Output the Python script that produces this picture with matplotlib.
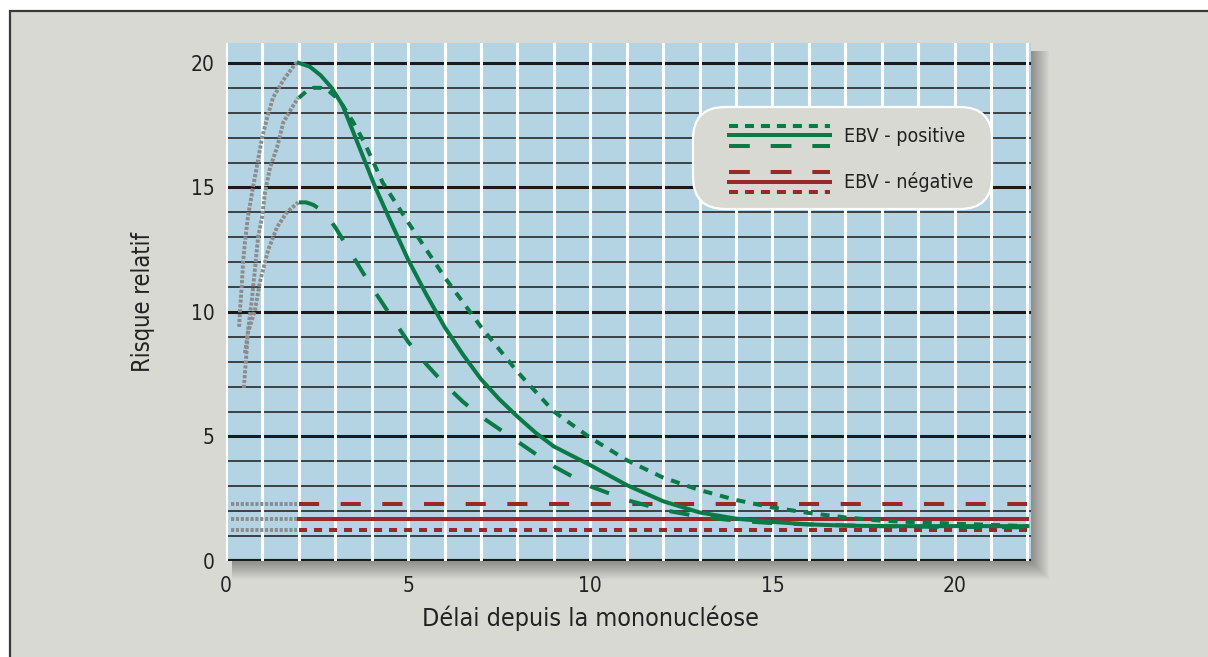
import matplotlib
matplotlib.use("Agg")
import matplotlib.pyplot as plt
from matplotlib.patches import Rectangle, FancyBboxPatch
from matplotlib.lines import Line2D
from matplotlib import font_manager as fm

# pick a condensed sans font if one is installed
_cond = None
_prefs = ['LiberationSansNarrow-Regular', 'DejaVuSansCondensed.', 'OpenSans_Condensed-Regular',
          'OpenSans-CondensedRegular', 'RobotoCondensed-Regular', 'Roboto_Condensed-Regular']
_files = [f.fname for f in fm.fontManager.ttflist]
for p in _prefs:
    hits = [f for f in _files if p.lower() in f.lower()]
    if hits:
        _cond = hits[0]
        break
if _cond is None:
    for f in fm.fontManager.ttflist:
        if f.stretch in ('condensed', 'semi-condensed') and f.style == 'normal' and f.weight in (400, 'normal'):
            _cond = f.fname
            break

plt.rcParams['font.family'] = ['Liberation Sans', 'DejaVu Sans']
plt.rcParams['lines.scale_dashes'] = False

def fp(size):
    if _cond:
        return fm.FontProperties(fname=_cond, size=size)
    return fm.FontProperties(family='Liberation Sans', size=size * 0.9)

# ---------------- data ----------------
x_ticks = [0, 5, 10, 15, 20]
y_ticks = [0, 5, 10, 15, 20]

# EBV-positive (green)
pos_solid_x = [2, 2.3, 2.6, 2.9, 3.2, 3.5, 3.8, 4.1, 4.5, 5, 5.5, 6, 6.5, 7, 7.5, 8, 8.5, 9, 10, 11, 12, 13, 14, 15, 16, 17, 18, 19, 20, 21, 22]
pos_solid_y = [20, 19.85, 19.5, 19.0, 18.3, 17.2, 16.1, 15.0, 13.7, 12.1, 10.7, 9.4, 8.3, 7.3, 6.5, 5.8, 5.15, 4.6, 3.85, 3.05, 2.4, 1.95, 1.7, 1.57, 1.47, 1.42, 1.4, 1.4, 1.4, 1.4, 1.4]

pos_dot_x = [2, 2.2, 2.4, 2.6, 2.8, 3.0, 3.2, 3.5, 3.8, 4.3, 5, 5.5, 6, 6.5, 7, 7.5, 8, 8.5, 9, 10, 11, 12, 13, 14, 15, 16, 17, 18, 19, 20, 21, 22]
pos_dot_y = [18.6, 18.85, 19.0, 19.0, 18.9, 18.65, 18.3, 17.6, 16.8, 15.2, 13.6, 12.5, 11.4, 10.4, 9.4, 8.5, 7.6, 6.8, 6.0, 4.95, 4.05, 3.35, 2.85, 2.45, 2.15, 1.93, 1.75, 1.62, 1.55, 1.5, 1.45, 1.4]

pos_dash_x = [2, 2.2, 2.4, 2.6, 2.8, 3, 3.5, 4, 4.5, 5, 5.5, 6, 6.5, 7, 7.5, 8, 8.5, 9, 10, 11, 12, 13, 14, 15, 16, 17, 18, 19, 20, 21, 22]
pos_dash_y = [14.4, 14.4, 14.3, 14.1, 13.8, 13.4, 12.2, 11.0, 9.9, 8.8, 7.9, 7.1, 6.4, 5.8, 5.3, 4.8, 4.3, 3.8, 3.0, 2.45, 2.05, 1.78, 1.62, 1.52, 1.47, 1.43, 1.4, 1.38, 1.37, 1.36, 1.35]

# EBV-negative (red), constant levels from 2 to 22
neg_x = [2, 22]
neg_dash_y = [2.3, 2.3]
neg_solid_y = [1.7, 1.7]
neg_dot_y = [1.25, 1.25]

# grey extrapolations (before 2 years)
grey_a_x = [0.36, 0.38, 0.43, 0.47, 0.52, 0.6, 0.74, 0.88, 0.99, 1.13, 1.29, 1.57, 1.9, 2.0]
grey_a_y = [9.4, 10.0, 11.0, 12.0, 12.8, 13.8, 15.0, 16.1, 17.0, 17.8, 18.6, 19.3, 19.96, 20.0]
grey_b_x = [0.49, 0.55, 0.6, 0.71, 0.8, 0.88, 0.99, 1.07, 1.21, 1.4, 1.57, 1.81, 1.98]
grey_b_y = [6.95, 8.1, 9.2, 10.5, 11.8, 13.0, 13.8, 14.8, 15.8, 16.6, 17.6, 18.2, 18.6]
grey_c_x = [0.52, 0.6, 0.8, 0.93, 1.16, 1.4, 1.67, 1.98]
grey_c_y = [8.35, 9.15, 10.1, 11.2, 12.5, 13.4, 14.0, 14.4]
grey_h_x = [0.14, 1.95]
grey_h_levels = [2.3, 1.7, 1.25]

legend_labels = ["EBV - positive", "EBV - négative"]

# ---------------- styles ----------------
GREEN = '#0b7a47'
RED = '#992828'
GREY = '#8c8c8c'
PANEL = '#d9d9d4'
AXBG = '#b5d4e3'
TXT = '#222222'

W, H = 1208, 657
fig = plt.figure(figsize=(W / 100, H / 100), dpi=100)
fig.patch.set_facecolor('white')

# outer grey panel with dark border
fig.add_artist(Rectangle((10 / W, -0.05), 1.2, (H - 11) / H + 0.05,
                         transform=fig.transFigure, facecolor=PANEL,
                         edgecolor='#3a3a3a', linewidth=1.6, zorder=-10))

L, R, T, B = 226, 1031, 43, 561
ax = fig.add_axes([L / W, 1 - B / H, (R - L) / W, (B - T) / H])

# soft drop shadow
for i in range(1, 19):
    fig.add_artist(Rectangle(((L + 6) / W, 1 - (B + i) / H), (R - L - 6 + i) / W, (B - T - 8 + i) / H,
                             transform=fig.transFigure, facecolor='black',
                             edgecolor='none', alpha=0.02, zorder=-5))

ax.set_facecolor(AXBG)
ax.set_xlim(0, 22.1)
ax.set_ylim(0, 20.8)
for s in ax.spines.values():
    s.set_visible(False)

# horizontal black grid
for yv in range(0, 21):
    major = (yv % 5 == 0)
    ax.axhline(yv, color='#1a1a1a', lw=2.2 if major else 1.1, zorder=1)
ax.axhline(0, color='#1a1a1a', lw=3.0, zorder=1)
# vertical white grid
for xv in range(0, 23):
    ax.axvline(xv, color='white', lw=2.2, zorder=2)

# grey extrapolation curves
gkw = dict(color=GREY, lw=2.8, dashes=(2.3, 1.2), zorder=3, dash_capstyle='butt')
ax.plot(grey_a_x, grey_a_y, **gkw)
ax.plot(grey_b_x, grey_b_y, **gkw)
ax.plot(grey_c_x, grey_c_y, **gkw)
for lev in grey_h_levels:
    ax.plot(grey_h_x, [lev, lev], **gkw)

# red lines
ax.plot(neg_x, neg_dash_y, color=RED, lw=2.9, dashes=(14.5, 15.5), zorder=4)
ax.plot(neg_x, neg_solid_y, color=RED, lw=2.9, zorder=4)
ax.plot(neg_x, neg_dot_y, color=RED, lw=2.9, dashes=(5.8, 5.0), zorder=4)

# green curves
ax.plot(pos_dot_x, pos_dot_y, color=GREEN, lw=2.9, dashes=(6.5, 5.8), zorder=5)
ax.plot(pos_dash_x, pos_dash_y, color=GREEN, lw=2.9, dashes=(14.5, 15.5), zorder=5)
ax.plot(pos_solid_x, pos_solid_y, color=GREEN, lw=2.9, zorder=6, solid_joinstyle='round')

ax.set_xticks(x_ticks)
ax.set_yticks(y_ticks)
ax.tick_params(length=0, colors=TXT, pad=8)
ax.tick_params(axis='x', pad=11)
for lab in ax.get_xticklabels() + ax.get_yticklabels():
    lab.set_fontproperties(fp(15))
ax.set_xlabel("Délai depuis la mononucléose", fontproperties=fp(18), color=TXT, labelpad=8)
ax.xaxis.set_label_coords((591 - L) / (R - L), -0.085)
ax.set_ylabel("Risque relatif", fontproperties=fp(17), color=TXT, labelpad=26)

# legend (drawn in axes fraction)
def axf(px, py):
    return (px - L) / (R - L), (B - py) / (B - T)

bx0, by0 = axf(693, 209)
bx1, by1 = axf(992, 107)
ax.add_patch(FancyBboxPatch((bx0, by0), bx1 - bx0, by1 - by0,
                            boxstyle="round,pad=0,rounding_size=0.04",
                            mutation_aspect=(R - L) / (B - T),
                            transform=ax.transAxes, facecolor=PANEL,
                            edgecolor='white', lw=1.6, zorder=10))
lx0, _ = axf(729, 0)
lx1, _ = axf(830, 0)
leg_specs = [
    (126, GREEN, (6.5, 5.0)), (135, GREEN, None), (146, GREEN, (15, 15)),
    (172, RED, (15, 15)), (182, RED, None), (192, RED, (6.5, 5.0)),
]
for py, col, d in leg_specs:
    _, yy = axf(0, py)
    ln = Line2D([lx0, lx1], [yy, yy], transform=ax.transAxes, color=col, lw=2.9, zorder=11)
    if d is not None:
        ln.set_dashes(d)
    ax.add_line(ln)
tx, _ = axf(844, 0)
for py, lab in zip([136, 182], legend_labels):
    _, yy = axf(0, py)
    ax.text(tx, yy, lab, transform=ax.transAxes, fontproperties=fp(14), color=TXT,
            va='center', ha='left', zorder=12)

fig.savefig("out.png", dpi=100)
